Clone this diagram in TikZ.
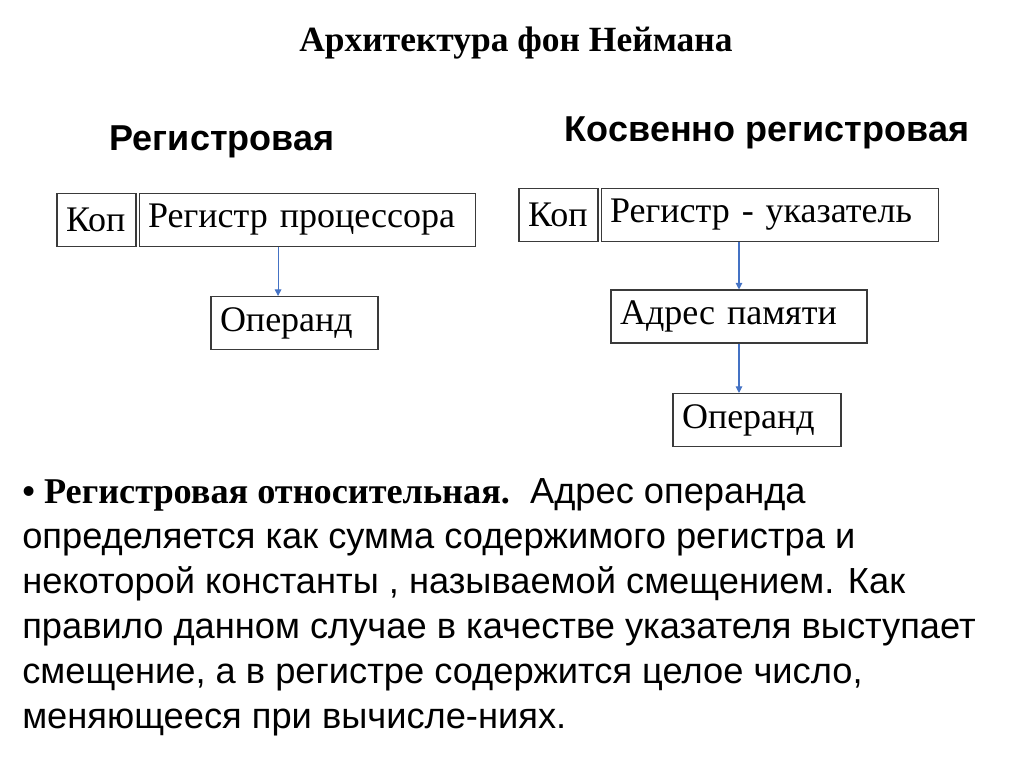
\documentclass[tikz,border=0pt]{standalone}
\usepackage{fontspec}
\setmainfont{Liberation Serif}
\setsansfont{Liberation Sans}
\usetikzlibrary{arrows.meta, positioning, calc}
\definecolor{clrArrow}{HTML}{4472C4}
\definecolor{clrFrame}{HTML}{3A3A3A}

\begin{document}
\begin{tikzpicture}[x=0.75pt, y=-0.75pt,
    cell/.style={rectangle, draw=clrFrame, line width=0.8pt, minimum height=39.75pt, inner xsep=6.75pt, inner ysep=0pt, align=left, font=\fontsize{27}{30}\selectfont},
    heading/.style={font=\sffamily\bfseries\fontsize{27}{30}\selectfont},
    titletext/.style={font=\rmfamily\bfseries\fontsize{26.6}{30}\selectfont},
    body/.style={font=\sffamily\fontsize{27.2}{33.75}\selectfont, align=left, inner sep=0pt},
    link/.style={-{Triangle[length=5pt, width=5pt]}, line width=0.8pt, clrArrow},
]
\useasboundingbox (0,0) rectangle (1024,767);

\node[titletext] (title) at (516, 43) {Архитектура фон Неймана};

% register addressing
\node[heading] (hdL) at (222, 142) {Регистровая};
\node[cell, text width=45.75pt] (kopL) at (96.5, 220) {Коп};
\node[cell, text width=238.5pt, right=1.5pt of kopL] (regL) {Регистр процессора};
\node[cell, text width=111.75pt] (opL) at (294.5, 323) {Операнд};
\draw[link] ([xshift=-21.75pt]regL.south) -- ([xshift=-21.75pt]regL.south |- opL.north);

% indirect register addressing
\node[heading] (hdR) at (767, 133) {Косвенно регистровая};
\node[cell, text width=45.75pt] (kopR) at (558.5, 215) {Коп};
\node[cell, text width=239.25pt, right=1.5pt of kopR] (ptrR) {Регистр - указатель};
\node[cell, text width=178.5pt] (adrR) at (739, 316.5) {Адрес памяти};
\node[cell, text width=112.5pt] (opR) at (757, 420) {Операнд};
\draw[link] (adrR.north |- ptrR.south) -- (adrR.north);
\draw[link] (adrR.south) -- (adrR.south |- opR.north);

% description
\node[body, anchor=north west] (desc) at (22, 478) {%
{\rmfamily\bfseries\textbullet\ Регистровая относительная.}\ \ Адрес операнда\\
определяется как сумма содержимого регистра и\\
некоторой константы , называемой смещением. Как\\
правило данном случае в качестве указателя выступает\\
смещение, а в регистре содержится целое число,\\
меняющееся при вычисле-ниях.};

\end{tikzpicture}
\end{document}
